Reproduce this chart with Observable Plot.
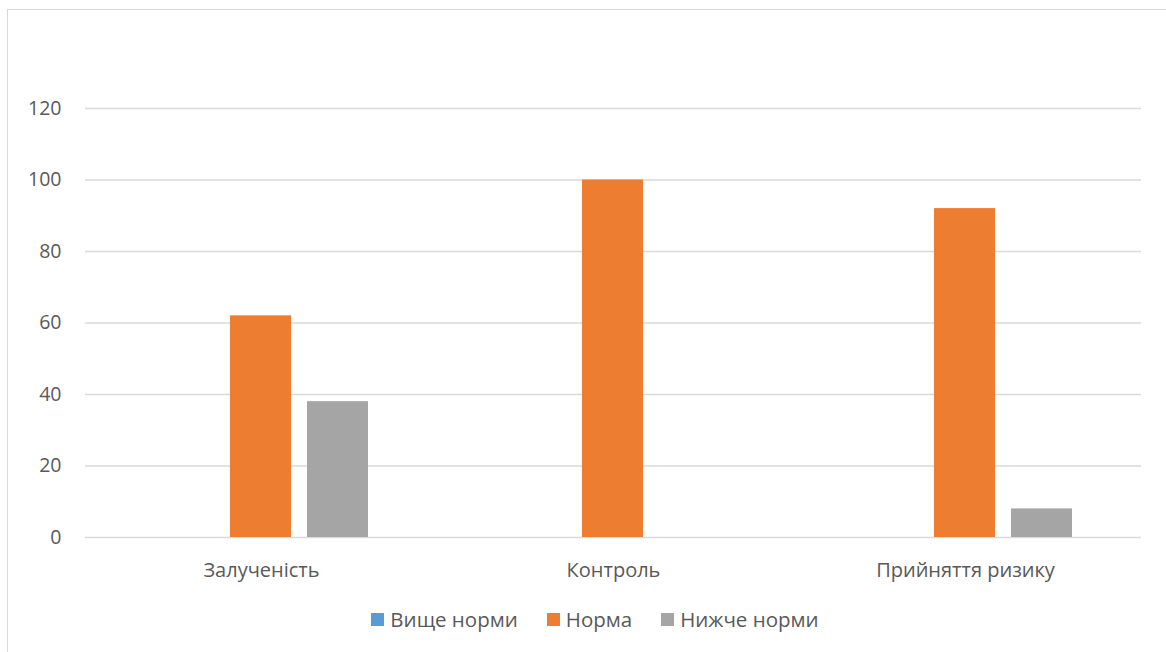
<!DOCTYPE html>
<html>
<head>
<meta charset="utf-8">
<script src="https://cdn.jsdelivr.net/npm/d3@7"></script>
<script src="https://cdn.jsdelivr.net/npm/@observablehq/plot@0.6"></script>
<style>
  html, body { margin: 0; padding: 0; background: #fff; overflow: hidden; width: 1166px; height: 652px; }
  #wrap { position: relative; width: 1166px; height: 652px; font-family: "Open Sans", "Liberation Sans", sans-serif; }
  #frame { position: absolute; left: 7px; top: 9px; width: 1300px; height: 800px; border: 1.5px solid #d9d9d9; box-sizing: border-box; }
  #chart { position: absolute; left: 0; top: 0; }
  #legend { position: absolute; left: 12px; top: 605px; width: 1166px; display: flex; justify-content: center; gap: 29px; font-size: 20.5px; color: #595959; }
  #legend .item { display: flex; align-items: center; gap: 6px; }
  #legend .sw { width: 13px; height: 13px; display: inline-block; }
</style>
</head>
<body>
<div id="wrap">
  <div id="frame"></div>
  <div id="chart"></div>
  <div id="legend"></div>
</div>
<script>
const categories = ["Залученість", "Контроль", "Прийняття ризику"];
const seriesNames = ["Вище норми", "Норма", "Нижче норми"];
const seriesColors = ["#5b9bd5", "#ed7d31", "#a5a5a5"];
const aboveNorm = [0, 0, 0];
const norm = [62, 100, 92];
const belowNorm = [38, 0, 8];
const yTicks = [0, 20, 40, 60, 80, 100, 120];

const seriesValues = [aboveNorm, norm, belowNorm];
const data = [];
categories.forEach((c, i) => {
  seriesNames.forEach((s, j) => {
    data.push({category: c, series: s, value: seriesValues[j][i]});
  });
});

const plot = Plot.plot({
  width: 1166,
  height: 590,
  marginLeft: 84,
  marginRight: 24,
  marginTop: 108,
  marginBottom: 53,
  style: {fontFamily: "'Open Sans', 'Liberation Sans', sans-serif", fontSize: "19px", color: "#595959", background: "transparent"},
  fx: {domain: categories, paddingInner: 0, paddingOuter: 0, label: null},
  x: {domain: seriesNames, paddingInner: 0.205, paddingOuter: 0.861, axis: null},
  y: {domain: [0, 120], label: null},
  color: {domain: seriesNames, range: seriesColors},
  marks: [
    Plot.gridY(yTicks, {stroke: "#d9d9d9", strokeOpacity: 1, strokeWidth: 1.3}),
    Plot.axisY(yTicks, {tickSize: 0, tickPadding: 24, label: null, fill: "#595959", fontSize: 19.5}),
    Plot.axisFx({anchor: "bottom", tickSize: 0, tickPadding: 25, label: null, fill: "#595959", fontSize: 20}),
    Plot.barY(data, {fx: "category", x: "series", y: "value", fill: "series"})
  ]
});
document.getElementById("chart").appendChild(plot);

const legend = document.getElementById("legend");
seriesNames.forEach((s, j) => {
  const item = document.createElement("div");
  item.className = "item";
  const sw = document.createElement("span");
  sw.className = "sw";
  sw.style.background = seriesColors[j];
  const t = document.createElement("span");
  t.textContent = s;
  item.appendChild(sw);
  item.appendChild(t);
  legend.appendChild(item);
});
</script>
</body>
</html>
